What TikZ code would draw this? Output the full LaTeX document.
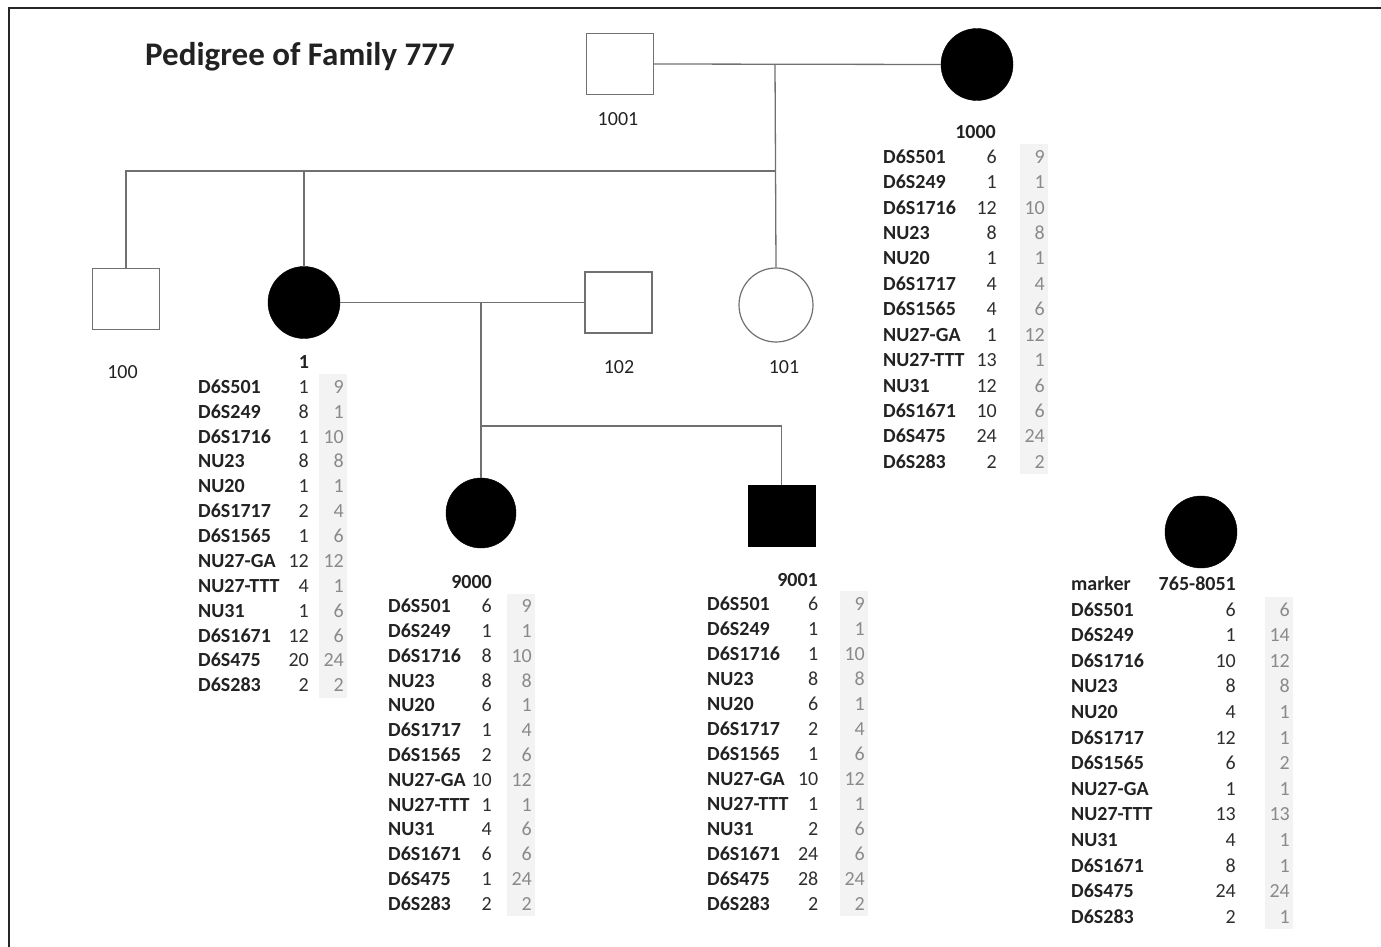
\documentclass[tikz,border=0pt]{standalone}
\usepackage{fontspec}
\setmainfont{Carlito}
\definecolor{ink}{HTML}{222222}
\definecolor{numdark}{HTML}{2E2E2E}
\definecolor{numgray}{HTML}{8A8A8A}
\definecolor{linegray}{HTML}{707070}
\definecolor{bandgray}{HTML}{F3F3F3}
\tikzset{
  conn/.style={draw=linegray, line width=1.3pt},
  opensq/.style={draw=linegray, line width=1.2pt, fill=white, rectangle, minimum width=67pt, minimum height=61pt, inner sep=0pt},
  fillsq/.style={draw=black, fill=black, rectangle, minimum width=67pt, minimum height=61pt, inner sep=0pt},
  opencirc/.style={draw=linegray, line width=1.2pt, fill=white, circle, minimum size=74pt, inner sep=0pt},
  fillcirc/.style={draw=black, fill=black, circle, minimum size=72pt, inner sep=0pt},
  mk/.style={anchor=base west, inner sep=0pt, text=ink, font=\fontsize{20}{24}\selectfont\bfseries},
  hdr/.style={inner sep=0pt, text=ink, font=\fontsize{20}{24}\selectfont\bfseries},
  nA/.style={anchor=base east, inner sep=0pt, text=numdark, font=\fontsize{20}{24}\selectfont},
  nB/.style={anchor=base east, inner sep=0pt, text=numgray, font=\fontsize{20}{24}\selectfont},
  idlbl/.style={anchor=base, inner sep=0pt, text=ink, font=\fontsize{20}{24}\selectfont},
  band/.style={fill=bandgray, draw=none},
}
% #1 id, #2 x marker, #3 x col1 right, #4 x col2 right, #5 first baseline, #6 row step, #7 list
\newcommand{\allelegrid}[7]{%
  \fill[band] (#4-25,#5-19) rectangle (#4+3,#5+12*#6+6);
  \foreach \mm/\aa/\bb [count=\ii from 0] in {#7} {
    \node[mk] (#1m\ii) at (#2,#5+\ii*#6) {\mm};
    \node[nA] (#1a\ii) at (#3,#5+\ii*#6) {\aa};
    \node[nB] (#1b\ii) at (#4,#5+\ii*#6) {\bb};
  }%
}
\begin{document}
\begin{tikzpicture}[x=1pt,y=-1pt]
\useasboundingbox (0,0) rectangle (1381,947);
% frame (only top and left edges visible)
\draw[line width=2pt, draw=black!85] (8.5,947) -- (8.5,8) -- (1381,8);
% title
\node[anchor=base west, inner sep=0pt, text=ink, font=\fontsize{33}{38}\selectfont\bfseries] (title) at (145,66) {Pedigree of Family 777};
% individuals
\node[opensq] (s1001) at (620,64) {};
\node[fillcirc] (c1000) at (977,64.5) {};
\node[opensq] (s100) at (126,299) {};
\node[fillcirc] (c1) at (304,302.5) {};
\node[opensq] (s102) at (618.5,302.5) {};
\node[opencirc] (c101) at (776,305) {};
\node[fillcirc, minimum size=70pt] (c9000) at (481,513) {};
\node[fillsq] (s9001) at (781.5,515.5) {};
\node[fillcirc] (c765) at (1201,532) {};
% connectors
\coordinate (m1) at (775,64);
\coordinate (j1) at (775,171);
\coordinate (m2) at (481,302.5);
\coordinate (j2) at (481,426);
\draw[conn] (s1001.east) -- (c1000.west);
\draw[conn] (m1) -- (c101.north);
\draw[conn] (s100.north) |- (j1);
\draw[conn] (c1.north) -- (c1.north |- j1);
\draw[conn] (c1.east) -- (s102.west);
\draw[conn] (m2) -- (c9000.north);
\draw[conn] (j2) -| (s9001.north);
% id labels
\node[idlbl] (l1001) at (618,125) {1001};
\node[idlbl] (l100) at (122.5,378.3) {100};
\node[idlbl] (l102) at (619,373.3) {102};
\node[idlbl] (l101) at (784,373.3) {101};
% headers
\node[hdr, anchor=base east] (h1000) at (996,138.3) {1000};
\node[hdr, anchor=base] (h1) at (304,368.3) {1};
\node[hdr, anchor=base east] (h9000) at (492,588.3) {9000};
\node[hdr, anchor=base east] (h9001) at (818,586) {9001};
\node[hdr, anchor=base west] (hmarker) at (1071,590) {marker};
\node[hdr, anchor=base east] (h765) at (1236,590) {765-8051};
% allele tables
\allelegrid{t1000}{883}{997}{1045}{163.3}{25.42}{D6S501/6/9, D6S249/1/1, D6S1716/12/10, NU23/8/8, NU20/1/1, D6S1717/4/4, D6S1565/4/6, NU27-GA/1/12, NU27-TTT/13/1, NU31/12/6, D6S1671/10/6, D6S475/24/24, D6S283/2/2}
\allelegrid{t1}{198}{309}{344}{393.3}{24.87}{D6S501/1/9, D6S249/8/1, D6S1716/1/10, NU23/8/8, NU20/1/1, D6S1717/2/4, D6S1565/1/6, NU27-GA/12/12, NU27-TTT/4/1, NU31/1/6, D6S1671/12/6, D6S475/20/24, D6S283/2/2}
\allelegrid{t9000}{388}{492}{532}{612.7}{24.8}{D6S501/6/9, D6S249/1/1, D6S1716/8/10, NU23/8/8, NU20/6/1, D6S1717/1/4, D6S1565/2/6, NU27-GA/10/12, NU27-TTT/1/1, NU31/4/6, D6S1671/6/6, D6S475/1/24, D6S283/2/2}
\allelegrid{t9001}{707}{818.5}{865}{610}{25}{D6S501/6/9, D6S249/1/1, D6S1716/1/10, NU23/8/8, NU20/6/1, D6S1717/2/4, D6S1565/1/6, NU27-GA/10/12, NU27-TTT/1/1, NU31/2/6, D6S1671/24/6, D6S475/28/24, D6S283/2/2}
\allelegrid{t765}{1071}{1236}{1290}{616}{25.6}{D6S501/6/6, D6S249/1/14, D6S1716/10/12, NU23/8/8, NU20/4/1, D6S1717/12/1, D6S1565/6/2, NU27-GA/1/1, NU27-TTT/13/13, NU31/4/1, D6S1671/8/1, D6S475/24/24, D6S283/2/1}
\end{tikzpicture}
\end{document}
